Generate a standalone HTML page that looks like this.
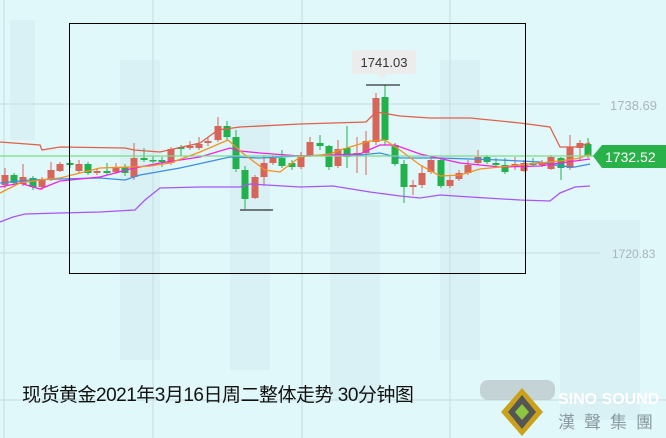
<!DOCTYPE html>
<html><head><meta charset="utf-8"><style>
html,body{margin:0;padding:0;}
body{width:666px;height:438px;overflow:hidden;background:#e0f8fa;position:relative;font-family:"Liberation Sans","Noto Sans CJK SC",sans-serif;}
svg{position:absolute;left:0;top:0;}
.t{position:absolute;left:22px;top:380px;font-size:19px;color:#111;white-space:nowrap;letter-spacing:-0.5px}
</style></head><body>
<svg id="s" width="666" height="438" xmlns="http://www.w3.org/2000/svg">
<g fill="#d9f1f4">
<rect x="10" y="20" width="25" height="120"/><rect x="120" y="60" width="40" height="300"/><rect x="230" y="120" width="40" height="250"/><rect x="330" y="200" width="50" height="200"/><rect x="440" y="60" width="40" height="300"/><rect x="560" y="220" width="80" height="200"/>
</g>
<g stroke="#c3dde2" stroke-width="1">
<line x1="4" y1="0" x2="4" y2="438"/><line x1="153" y1="0" x2="153" y2="438"/><line x1="302" y1="0" x2="302" y2="438"/><line x1="450" y1="0" x2="450" y2="438"/>
<line x1="0" y1="104" x2="600" y2="104"/><line x1="0" y1="253" x2="600" y2="253"/><line x1="0" y1="400" x2="666" y2="400"/>
</g>
<g id="c"></g>
<line x1="0" y1="156" x2="600" y2="156" stroke="#7ddb8a" stroke-width="1.2"/>
<rect x="69.5" y="23.5" width="456" height="250" fill="none" stroke="#000" stroke-width="1"/>
<line x1="366" y1="85" x2="400" y2="85" stroke="#000"/>
<line x1="240" y1="210" x2="273" y2="210" stroke="#000"/>
<rect x="352" y="50" width="64" height="24" rx="3" fill="#ececec"/>
<polygon points="379,74 387,74 383,79" fill="#ececec"/>
<text x="384" y="67" font-size="13" text-anchor="middle" fill="#333" font-family="Liberation Sans">1741.03</text>
<text x="610" y="110" font-size="13" fill="#a9b6bb" font-family="Liberation Sans">1738.69</text>
<text x="612" y="258" font-size="12" fill="#a9b6bb" font-family="Liberation Sans">1720.83</text>
<polygon points="593,156 602,145 666,145 666,168 602,168" fill="#2ab24a"/>
<text x="605" y="162" font-size="14" fill="#fff" font-family="Liberation Sans">1732.52</text>
<rect x="480" y="380" width="75" height="20" rx="8" fill="#b8c4c6" opacity="0.7"/>
<polygon points="522,388 543,412 522,436 501,412" fill="#c9a21a"/>
<polygon points="522,395 536,412 522,429 508,412" fill="#555"/>
<polygon points="522,404 529,412 522,420 515,412" fill="#8cc63f"/>
<text x="558" y="404" font-size="16" font-weight="bold" fill="#fff" font-family="Liberation Sans">SINO SOUND</text>
<text x="558" y="428" font-size="17" fill="#8a9aa0" font-family="Noto Sans CJK TC" letter-spacing="9">漢聲集團</text>
</svg>
<div class="t">现货黄金2021年3月16日周二整体走势 30分钟图</div>
<script>
var C=[[5,'r',175,185,168,188],[14,'g',175,183,173,186],[23,'r',177,184,164,186],[33,'g',178,187,176,190],[42,'r',179,187,177,190],[51,'r',170,179,162,181],[60,'r',164,171,162,172],[70,'g',163,165,160,168],[79,'r',164,171,160,173],[88,'g',164,173,162,175],[97,'r',171,173,168,175],[107,'g',171,173,163,175],[116,'r',167,172,163,174],[125,'g',167,173,164,176],[134,'r',158,177,143,180],[144,'g',158,160,148,162],[153,'g',160,161,156,163],[162,'g',160,162,157,167],[171,'r',149,163,147,165],[181,'g',147,149,145,156],[190,'r',146,148,141,150],[199,'r',144,148,137,150],[208,'r',141,143,138,146],[218,'r',126,140,117,142],[227,'g',126,137,121,140],[236,'g',137,169,130,172],[245,'g',170,199,166,209],[255,'r',177,198,175,199],[264,'r',163,177,155,186],[273,'r',158,163,155,165],[282,'g',158,166,150,168],[292,'g',163,167,160,170],[301,'r',155,167,152,169],[310,'r',142,155,137,157],[320,'g',143,146,135,150],[329,'g',146,167,145,170],[338,'r',149,166,140,168],[347,'g',148,157,126,168],[357,'r',153,155,137,173],[366,'r',141,153,131,175],[376,'r',98,142,93,145],[385,'g',97,140,85,145],[395,'g',145,164,143,166],[404,'g',164,187,160,203],[413,'r',185,187,180,195],[422,'r',173,185,165,188],[431,'r',160,172,156,174],[441,'g',160,186,158,188],[450,'r',180,186,176,188],[459,'r',173,179,170,181],[468,'r',165,173,160,175],[478,'r',157,163,150,165],[487,'g',157,162,155,164],[496,'g',163,165,158,167],[505,'g',165,172,158,174],[515,'r',164,166,157,170],[524,'r',163,171,160,172],[533,'g',163,165,158,166],[542,'r',163,165,160,167],[551,'r',157,169,155,170],[561,'g',158,168,157,180],[570,'r',147,168,135,170],[580,'r',143,148,140,160],[588,'g',144,156,138,158]];
var h='';C.forEach(function(c){var col=c[1]=='r'?'#d6655b':'#22b14c';h+='<line x1="'+c[0]+'" y1="'+c[4]+'" x2="'+c[0]+'" y2="'+c[5]+'" stroke="'+col+'" stroke-width="1"/>';var hh=Math.max(c[3]-c[2],1.5);h+='<rect x="'+(c[0]-3.5)+'" y="'+c[2]+'" width="7" height="'+hh+'" fill="'+col+'"/>';});
function L(p,col){return '<polyline points="'+p+'" fill="none" stroke="'+col+'" stroke-width="1.3"/>';}
h+=L('0,142 40,145 42,150 60,147 125,148 134,150 160,152 200,143 218,130 240,127 300,124 366,122 376,112 400,116 430,118 470,118 520,123 550,127 560,147 575,147 590,143','#e0604a');
h+=L('0,222 13,217 25,214 60,213 100,212 135,210 145,200 160,188 200,187 240,187 250,184 300,187 333,186 370,192 400,196 420,198 440,195 470,197 520,200 550,201 560,193 575,187 590,186','#a855f7');
h+=L('0,183 30,180 60,179 100,178 125,180 140,175 180,168 230,157 260,158 300,156 360,155 380,153 400,158 440,158 500,160 540,162 560,166 575,167 590,164','#3a8ee6');
h+=L('0,187 20,183 40,189 60,181 100,177 130,169 160,163 200,157 230,148 240,151 260,153 300,156 360,154 380,145 395,145 420,154 460,163 500,167 540,166 560,163 575,161 590,159','#f020e8');
h+=L('0,193 20,183 40,180 60,178 100,168 130,167 150,166 170,163 200,152 228,140 245,155 265,170 280,172 300,157 330,154 340,150 370,141 385,140 400,150 420,165 440,176 460,175 480,169 520,165 560,161 580,158 590,154','#f5901e');
document.getElementById('c').innerHTML=h;
</script>
</body></html>
